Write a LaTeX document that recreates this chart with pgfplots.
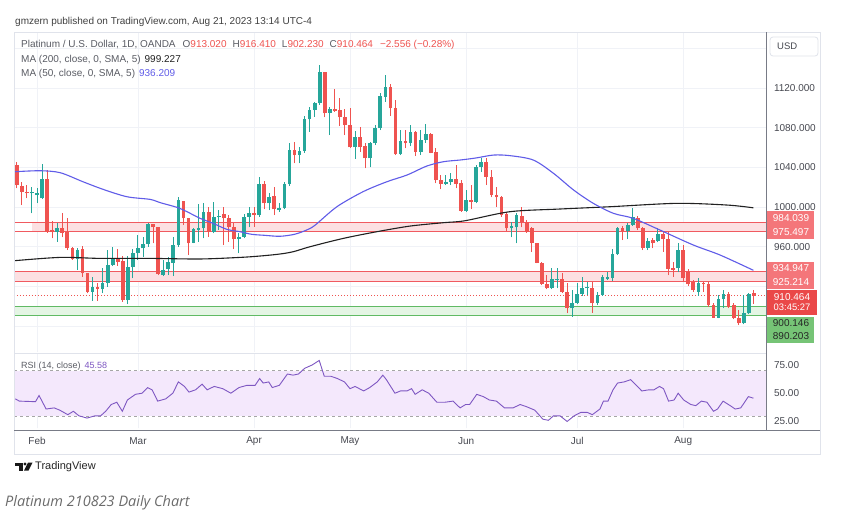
\documentclass[border=0pt]{standalone}
\usepackage{fontspec}
\setmainfont{Liberation Sans}
\newfontfamily\capfont{Open Sans}
\usepackage{pgfplots}
\usepackage{pgfplotstable}
\pgfplotsset{compat=1.18}

\definecolor{upc}{RGB}{38,166,154}
\definecolor{dnc}{RGB}{239,83,80}
\definecolor{maf}{RGB}{96,92,232}
\definecolor{mab}{RGB}{33,33,33}
\definecolor{zred}{RGB}{240,90,96}
\definecolor{zredfill}{RGB}{252,224,226}
\definecolor{zgreen}{RGB}{96,186,100}
\definecolor{zgreenfill}{RGB}{228,245,228}
\definecolor{gridc}{RGB}{240,242,247}
\definecolor{axtxt}{RGB}{70,72,80}
\definecolor{hdr}{RGB}{90,92,100}
\definecolor{rsic}{RGB}{126,87,194}
\definecolor{rsifill}{RGB}{244,232,252}
\definecolor{framec}{RGB}{224,227,235}
\definecolor{axline}{RGB}{120,123,134}
\definecolor{boxred}{RGB}{244,118,122}
\definecolor{boxred2}{RGB}{234,72,72}
\definecolor{boxgreen}{RGB}{118,196,118}

\pgfplotstableread{
i o h l c
-1 1013.8 1020.5 993.6 1015.5
0 1012.0 1019.0 1004.0 1014.5
1 1008.7 1043.4 1008.0 1027.9
4 975.1 983.5 965.0 978.5
8 947.2 959.0 936.5 956.6
11 914.6 929.7 905.5 919.0
13 917.0 938.2 912.9 923.7
14 923.7 956.6 919.7 941.5
15 941.5 960.0 940.5 948.2
18 906.2 950.9 902.2 939.2
19 939.2 957.3 928.1 953.3
20 953.3 971.4 946.6 958.3
21 958.3 969.7 950.0 962.7
22 962.7 983.9 960.0 982.8
25 931.4 946.6 930.4 936.5
26 937.1 949.9 931.4 944.9
27 943.9 970.1 930.4 961.7
28 961.7 1010.4 960.0 1007.1
31 964.0 978.5 963.4 977.5
32 976.8 1003.0 965.0 978.5
33 978.5 1003.7 968.4 995.3
35 975.1 1005.4 973.4 990.3
36 989.6 997.0 976.8 990.9
40 967.4 973.4 953.3 970.1
41 970.1 992.9 968.4 990.3
42 990.3 1000.3 979.5 994.3
44 991.9 1030.6 990.3 1023.2
46 1003.7 1013.8 997.0 1010.4
48 997.0 1003.7 995.3 998.7
49 998.7 1025.5 997.6 1023.2
50 1023.2 1064.9 1021.2 1057.5
52 1052.4 1060.8 1044.0 1056.8
53 1056.8 1091.8 1054.8 1088.4
54 1088.4 1101.2 1076.0 1097.8
55 1097.8 1106.2 1091.1 1104.5
56 1104.5 1143.2 1102.9 1136.5
58 1095.1 1101.2 1072.6 1098.5
63 1060.2 1077.0 1048.7 1070.9
66 1049.1 1065.9 1040.0 1064.2
67 1064.2 1082.7 1062.5 1079.3
68 1079.3 1114.6 1077.6 1111.9
69 1111.3 1133.1 1106.2 1121.3
72 1053.4 1077.6 1052.4 1066.9
74 1064.2 1082.7 1061.5 1076.0
76 1055.8 1077.6 1052.4 1067.6
77 1067.6 1083.7 1064.9 1073.6
81 1023.2 1032.3 1022.2 1025.5
82 1025.5 1033.9 1022.2 1027.9
85 996.0 1017.0 995.3 1007.0
87 1005.4 1042.4 1003.7 1040.7
88 1040.7 1049.0 1035.6 1045.7
94 978.5 985.2 969.4 980.8
95 979.5 994.3 963.4 991.9
102 918.0 938.2 917.0 927.1
103 926.4 938.2 918.0 927.1
106 897.8 916.3 889.4 903.5
107 903.5 923.0 902.2 912.3
108 912.3 929.7 910.3 918.0
109 918.0 924.7 911.3 919.7
111 902.9 914.6 901.2 911.3
112 911.3 931.4 910.3 929.7
113 927.4 934.8 926.4 929.7
114 928.0 958.0 925.0 953.0
115 952.3 980.2 951.6 978.5
117 975.8 983.5 967.7 981.8
118 981.8 998.7 981.2 990.3
121 959.0 968.4 956.6 965.7
123 965.7 978.5 964.4 972.4
127 938.2 963.4 934.1 956.6
131 914.6 928.1 910.6 923.7
135 888.4 911.3 887.7 907.2
136 907.2 916.3 897.8 911.9
140 882.7 911.3 881.7 892.8
141 892.8 912.9 891.8 911.9
}\up

\pgfplotstableread{
i o h l c
-4 1042.4 1045.7 1018.8 1022.2
-3 1021.2 1025.5 1002.0 1015.5
-2 1015.5 1022.2 1008.7 1013.8
2 1027.9 1037.3 974.0 975.1
3 976.8 986.2 968.4 975.1
5 978.5 993.6 969.4 974.1
6 975.1 988.6 956.6 958.3
7 958.3 960.0 946.6 947.2
9 957.3 960.7 929.7 933.1
10 933.1 933.5 912.9 914.6
12 919.7 923.0 905.5 917.0
16 948.2 958.0 941.0 944.9
17 945.9 950.9 904.5 906.2
23 982.8 982.8 963.4 979.5
24 979.5 979.5 931.4 932.4
29 1006.4 1006.4 981.8 988.6
30 988.6 988.6 951.6 963.4
34 995.3 1000.3 970.1 975.1
37 992.9 1000.3 961.7 988.6
38 988.6 992.0 965.0 979.5
39 980.2 983.5 957.3 967.4
43 994.3 1000.3 980.2 991.9
45 1023.2 1026.6 997.6 1003.7
47 1011.1 1020.5 991.9 997.6
51 1057.5 1065.9 1044.0 1052.4
57 1136.5 1136.5 1090.4 1094.5
59 1098.5 1118.7 1096.1 1097.1
60 1097.8 1109.6 1081.7 1090.4
61 1090.4 1098.5 1072.6 1082.7
62 1082.7 1099.5 1059.2 1060.2
64 1070.9 1081.0 1055.8 1060.2
65 1061.5 1064.9 1039.0 1049.1
70 1121.3 1124.0 1091.8 1099.5
71 1099.5 1107.9 1052.4 1053.4
73 1066.9 1077.6 1059.2 1064.2
75 1076.0 1077.0 1051.4 1055.8
78 1073.6 1075.0 1054.1 1054.8
79 1055.8 1059.2 1023.9 1027.2
80 1027.2 1032.3 1017.8 1023.2
83 1027.9 1042.4 1018.8 1023.2
84 1024.0 1027.0 995.0 996.0
86 1007.0 1022.0 998.0 1005.4
89 1045.7 1049.0 1022.2 1030.6
90 1030.6 1037.3 1009.7 1012.1
91 1012.1 1020.5 1000.3 1009.7
92 1009.7 1011.1 990.3 991.9
93 993.0 995.3 976.1 978.5
96 991.0 1000.3 979.5 985.2
97 985.2 986.9 974.1 975.1
98 978.5 980.2 955.0 963.4
99 963.4 963.4 943.2 943.9
100 943.9 944.9 921.3 922.4
101 922.4 931.4 917.0 918.0
104 927.1 933.1 913.6 914.6
105 914.6 923.0 892.8 897.8
110 918.0 924.7 893.4 902.9
116 978.5 981.2 966.7 975.8
119 988.6 991.3 976.8 978.5
120 978.5 980.2 956.6 959.0
122 966.7 969.0 958.3 963.4
124 972.4 975.1 955.0 967.7
125 967.7 974.5 931.4 937.5
126 938.2 944.9 929.7 936.5
128 956.6 961.7 924.0 928.1
129 934.8 937.5 920.7 922.0
130 924.7 926.4 914.6 916.3
132 923.7 924.7 914.6 922.0
133 922.0 924.7 899.5 901.2
134 901.2 902.9 888.4 888.4
137 911.9 914.6 897.8 899.5
138 901.2 902.9 886.7 888.4
139 888.4 896.1 881.0 882.7
142 913.02 916.41 902.23 910.464
}\dn

\pgfplotsset{
  wick/.style={forget plot, draw=none, mark=none, error bars/.cd, y dir=plus, y explicit, error mark=none, error bar style={line width=1pt, draw=#1}},
  body/.style={forget plot, draw=none, mark=none, error bars/.cd, y dir=plus, y explicit, error mark=none, error bar style={line width=3.7pt, draw=#1}},
}

\begin{document}
\begin{tikzpicture}
\path[fill=white] (0pt,0pt) rectangle (851pt,-525pt);

% price pane
\begin{axis}[at={(14pt,-32pt)}, anchor=north west, scale only axis,
  width=752pt, height=320pt,
  xmin=-4.56, xmax=144.4, ymin=853.8, ymax=1176.5,
  axis line style={draw=none}, tick style={draw=none}, major tick length=0pt,
  xtick={0,20,43,62,85,107,128}, xticklabels={},
  ytick={880,920,960,1000,1040,1080,1120,1160},
  yticklabels={,,960.000,1000.000,1040.000,1080.000,1120.000,},
  yticklabel pos=right,
  yticklabel style={anchor=west, xshift=4.5pt, text=axtxt, font=\fontsize{10}{11}\selectfont},
  grid=major, major grid style={draw=gridc, line width=0.8pt},
]
% zones
\addplot[fill=zredfill, draw=none, forget plot] coordinates {(-1,975.497) (144.4,975.497) (144.4,984.039) (-1,984.039)} -- cycle;
\addplot[fill=zredfill, draw=none, forget plot] coordinates {(-4.56,925.214) (144.4,925.214) (144.4,934.947) (-4.56,934.947)} -- cycle;
\addplot[fill=zgreenfill, draw=none, forget plot] coordinates {(-4.56,890.203) (144.4,890.203) (144.4,900.146) (-4.56,900.146)} -- cycle;
\addplot[zred, line width=0.9pt, forget plot] coordinates {(-4.56,984.039) (144.4,984.039)};
\addplot[zred, line width=0.9pt, forget plot] coordinates {(-4.56,975.497) (144.4,975.497)};
\addplot[zred, line width=0.9pt, forget plot] coordinates {(-4.56,934.947) (144.4,934.947)};
\addplot[zred, line width=0.9pt, forget plot] coordinates {(-4.56,925.214) (144.4,925.214)};
\addplot[zgreen, line width=0.9pt, forget plot] coordinates {(-4.56,900.146) (144.4,900.146)};
\addplot[zgreen, line width=0.9pt, forget plot] coordinates {(-4.56,890.203) (144.4,890.203)};
\addplot[dnc, line width=0.7pt, dash pattern=on 1pt off 2pt, forget plot] coordinates {(-4.56,910.464) (144.4,910.464)};
% candles
\addplot[wick=upc] table[x=i, y=l, y error plus expr=\thisrow{h}-\thisrow{l}] {\up};
\addplot[body=upc] table[x=i, y=o, y error plus expr=\thisrow{c}-\thisrow{o}] {\up};
\addplot[wick=dnc] table[x=i, y=l, y error plus expr=\thisrow{h}-\thisrow{l}] {\dn};
\addplot[body=dnc] table[x=i, y=c, y error plus expr=\thisrow{o}-\thisrow{c}] {\dn};
% moving averages
\addplot[mab, line width=1.1pt, smooth] coordinates {
(-4.4,945.9) (4.6,949.2) (12.5,948.2) (22.4,948.2) (32.3,947.6) (40.2,949.2) (44.2,950.6) (48.1,952.6) (50.8,955) (54.1,960) (60.7,968.4) (67.3,975.1) (73.9,980.8) (80.5,984.2) (84.8,986.2) (93.7,995.3) (103.6,998) (113.5,1000.3) (126.7,1003.7) (136.7,1002) (141.9,999.2)};
\addplot[maf, line width=1.1pt, smooth] coordinates {
(-4.4,1035.6) (0.6,1036.6) (4.6,1034.6) (9.1,1025.5) (13.1,1017.8) (17.8,1010.4) (22.4,1007.7) (24.4,1004.4) (27.7,999.7) (29.7,995.3) (32.3,988.6) (34.9,983.5) (37.6,977.5) (40.2,975.1) (42.5,972.5) (45,971.5) (48.1,970.5) (51,972.5) (53.4,976.8) (55.1,981.8) (59.4,1000.3) (64.6,1015.5) (69.3,1025.5) (73.3,1032.3) (77.2,1041.3) (80.5,1045.7) (83.8,1047.4) (87,1049.5) (90.4,1052.4) (93.7,1051.8) (98.3,1047.4) (102.3,1034) (106.3,1017.1) (110.2,1003.7) (114.2,993.6) (118.1,988.6) (123.4,976.8) (130,961.7) (135.3,951.6) (141.9,936.2)};
\end{axis}

% RSI pane
\begin{axis}[at={(14pt,-354pt)}, anchor=north west, scale only axis,
  width=752pt, height=74pt,
  xmin=-4.56, xmax=144.4, ymin=19.2, ymax=84.7,
  axis line style={draw=none}, tick style={draw=none}, major tick length=0pt,
  xtick={0,20,43,62,85,107,128}, xticklabels={Feb,Mar,Apr,May,Jun,Jul,Aug},
  xticklabel style={anchor=center, yshift=-13pt, text=axtxt, font=\fontsize{10}{11}\selectfont},
  ytick={25,50,75}, yticklabels={25.00,50.00,75.00},
  yticklabel pos=right,
  yticklabel style={anchor=west, xshift=4.5pt, text=axtxt, font=\fontsize{10}{11}\selectfont},
  xmajorgrids, major grid style={draw=gridc, line width=0.8pt},
]
\addplot[fill=rsifill, draw=none, forget plot] coordinates {(-4.56,30) (144.4,30) (144.4,70) (-4.56,70)} -- cycle;
\addplot[gray!70, dashed, line width=0.6pt, forget plot] coordinates {(-4.56,70) (144.4,70)};
\addplot[gray!70, dashed, line width=0.6pt, forget plot] coordinates {(-4.56,30) (144.4,30)};
\addplot[rsic, line width=0.9pt] coordinates {
(-4.3,45) (-3.5,43) (-0.3,42.5) (0.4,48) (1.8,36) (3.4,37) (4.5,35) (6.1,31) (7.2,34) (8.3,30) (9.9,28) (11.5,30) (12.6,30) (13.6,34) (14.7,40) (15.8,42) (16.9,34) (17.9,44) (19.5,49) (20.8,50) (21.9,55) (22.8,53) (23.9,43) (25.5,45) (26.9,50) (28,60) (29.2,56) (30.1,51) (31.4,53) (32.7,58) (33.7,53) (35.1,56) (36.8,54) (38.4,50) (40,55) (41.6,57) (43.2,57) (44.1,63) (44.8,59) (45.9,60) (46.6,55) (48,57) (49.6,67) (50.7,66) (51.8,67) (53,72) (54.5,75) (55.9,79) (56.9,65) (58.2,65) (59.5,63) (60.9,60) (62,54) (63,56) (64.7,52) (65.9,55) (67.4,60) (68.5,66) (69.2,62) (70.9,50) (72,52) (73.3,52) (74.2,54) (74.9,49) (76.3,53) (77.6,50) (79.2,42) (80.8,42) (82.4,43) (83.8,37) (84.9,40) (85.7,40) (87.1,49) (88.4,47) (89.6,44) (91,43) (92.6,37) (94.3,37) (95.7,40) (97,38) (98.6,35) (100.2,27) (101.3,26) (102.3,30) (103.6,30) (105,25) (106.4,30) (107.7,33) (109,33) (110,31) (111.5,36) (112.2,43) (113.1,43) (114.1,53) (115,59) (116.3,60) (117.6,62) (118.7,57) (119.8,52) (121.2,53) (122.2,53) (123.3,56) (124.1,54) (125.1,43) (126.2,44) (127,50) (128.1,44) (129.5,40) (130.5,39) (131.6,43) (132.7,42) (134,34) (134.8,36) (135.9,43) (137.3,39) (138.3,36) (139.4,37) (140.9,47) (141.9,45.6)};
\end{axis}

% frame and separators
\draw[framec, line width=0.8pt] (14pt,-32pt) rectangle (820pt,-454pt);
\draw[framec, line width=1pt] (14pt,-353pt) -- (766pt,-353pt);
\draw[axline, line width=0.8pt] (14pt,-430pt) -- (820pt,-430pt);
\draw[axline, line width=0.8pt] (766pt,-32pt) -- (766pt,-430pt);

% USD box
\draw[framec, fill=white, rounded corners=3pt, line width=0.8pt] (770pt,-37pt) rectangle (818pt,-56pt);
\node[anchor=west, inner sep=0pt, text=axtxt, font=\fontsize{9.5}{10}\selectfont] at (777pt,-46.5pt) {USD};

% price label boxes
\fill[boxred] (767pt,-211pt) rectangle (814pt,-239pt);
\node[text=white, inner sep=0pt, font=\fontsize{10}{11}\selectfont] at (791pt,-218pt) {984.039};
\node[text=white, inner sep=0pt, font=\fontsize{10}{11}\selectfont] at (791pt,-232pt) {975.497};
\fill[boxred] (767pt,-262pt) rectangle (814pt,-289pt);
\node[text=white, inner sep=0pt, font=\fontsize{10}{11}\selectfont] at (791pt,-268pt) {934.947};
\node[text=white, inner sep=0pt, font=\fontsize{10}{11}\selectfont] at (791pt,-282.5pt) {925.214};
\fill[boxred2] (767pt,-289.5pt) rectangle (817pt,-315pt);
\node[text=white, inner sep=0pt, font=\fontsize{10}{11}\selectfont] at (792pt,-297pt) {910.464};
\node[text=white, inner sep=0pt, font=\fontsize{9.4}{10}\selectfont] at (792pt,-307.5pt) {03:45:27};
\fill[boxgreen] (767pt,-317pt) rectangle (814pt,-343pt);
\node[text=black!85, inner sep=0pt, font=\fontsize{10}{11}\selectfont] at (791pt,-323.5pt) {900.146};
\node[text=black!85, inner sep=0pt, font=\fontsize{10}{11}\selectfont] at (791pt,-336.5pt) {890.203};

% header texts
\node[anchor=west, inner sep=0pt, text=black!75, font=\fontsize{10}{11}\selectfont] at (15pt,-22pt) {gmzern published on TradingView.com, Aug 21, 2023 13:14 UTC-4};
\node[anchor=west, inner sep=0pt, text=hdr, font=\fontsize{10}{11}\selectfont] at (21pt,-45pt)
 {Platinum / U.S. Dollar, 1D, OANDA\hspace{7pt}O\textcolor{dnc}{913.020}\hspace{6pt}H\textcolor{dnc}{916.410}\hspace{6pt}L\textcolor{dnc}{902.230}\hspace{6pt}C\textcolor{dnc}{910.464}\hspace{7pt}\textcolor{dnc}{−2.556 (−0.28\%)}};
\node[anchor=west, inner sep=0pt, text=hdr, font=\fontsize{10}{11}\selectfont] at (21pt,-60pt)
 {MA (200, close, 0, SMA, 5)\hspace{4pt}\textcolor{mab}{999.227}};
\node[anchor=west, inner sep=0pt, text=hdr, font=\fontsize{10}{11}\selectfont] at (21pt,-74pt)
 {MA (50, close, 0, SMA, 5)\hspace{4pt}\textcolor{maf}{936.209}};
\node[anchor=west, inner sep=0pt, text=hdr, font=\fontsize{9}{10}\selectfont] at (21pt,-366pt)
 {RSI (14, close)\hspace{4pt}\textcolor{rsic}{45.58}};

% TradingView logo
\fill[black!90] (15pt,-462.5pt) rectangle (23pt,-465.5pt);
\fill[black!90] (19pt,-465.5pt) rectangle (22.5pt,-470.5pt);
\fill[black!90] (25pt,-464pt) circle (1.6pt);
\fill[black!90] (28pt,-462.5pt) -- (32.5pt,-462.5pt) -- (28.5pt,-470.5pt) -- (24pt,-470.5pt) -- cycle;
\node[anchor=west, inner sep=0pt, text=black!85, font=\fontsize{11}{12}\selectfont] at (35pt,-467pt) {TradingView};

% caption
\node[anchor=west, inner sep=0pt, text=black!58, font=\capfont\itshape\fontsize{14.5}{17}\selectfont] at (5pt,-502.5pt) {Platinum 210823 Daily Chart};
\end{tikzpicture}
\end{document}
